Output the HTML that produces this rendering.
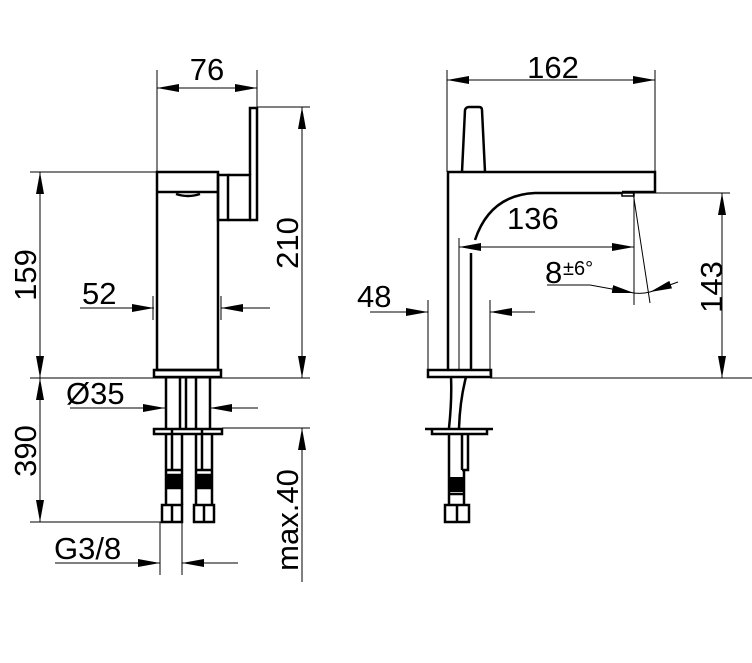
<!DOCTYPE html>
<html><head><style>body{margin:0;background:#fff}svg{display:block}text{font-family:"Liberation Sans",sans-serif;fill:#000}</style></head><body>
<svg width="752" height="663" viewBox="0 0 752 663" xmlns="http://www.w3.org/2000/svg">
<defs>
<marker id="a" viewBox="0 0 22 8" refX="22" refY="4" markerWidth="22" markerHeight="8" markerUnits="userSpaceOnUse" orient="auto-start-reverse"><path d="M0,0L22,4L0,8z" fill="#000"/></marker>
</defs>
<g stroke="#000" stroke-width="1" fill="none">
<path d="M157 70V172M257 70V107M257 107H310M30 172H157M30 378H310M222 428H310M30 522H182M160 522V575M182 522V575"/>
<path d="M157 88H257" marker-start="url(#a)" marker-end="url(#a)"/>
<path d="M302 107V378" marker-start="url(#a)" marker-end="url(#a)"/>
<path d="M40 172V378" marker-start="url(#a)" marker-end="url(#a)"/>
<path d="M40 378V522" marker-start="url(#a)" marker-end="url(#a)"/>
<path d="M302 428V582" marker-start="url(#a)"/>
<path d="M80 308H154" marker-end="url(#a)"/><path d="M270 308H221" marker-end="url(#a)"/>
<path d="M153 296V320M221 296V320"/>
<path d="M70 408H165" marker-end="url(#a)"/><path d="M258 408H210" marker-end="url(#a)"/>
<path d="M55 563H160" marker-end="url(#a)"/><path d="M238 563H182" marker-end="url(#a)"/>
</g>
<g stroke="#000" stroke-width="2.5" fill="none">
<rect x="157" y="172" width="61" height="198"/>
<path d="M157 192H218"/>
<path d="M176 194Q188 198 200 194"/>
<rect x="218" y="175" width="10" height="45"/>
<path d="M228 175H250V220H228"/>
<path d="M250 175V108H257V220H250"/>
<rect x="154" y="370" width="67" height="7"/>
<path d="M166 378V430M180 378V430M186 378V430M196 378V430M210 378V430M172 430V470M202 430V470"/>
<rect x="154" y="429" width="68" height="5"/>
<path d="M166 434V470H182V434M196 434V470H212V434M182 470V505M166 470V505M196 470V505M212 470V505"/>
<path d="M167 475H181M167 488H181M197 475H211M197 488H211"/>
<path d="M162 505H182V522H162ZM172 505V522M194 505H214V522H194ZM204 505V522"/>
</g>
<g fill="#000">
<rect x="167" y="476" width="14" height="12"/><rect x="197" y="476" width="14" height="12"/>
</g>
<g stroke="#000" stroke-width="1" fill="none">
<path d="M447 70V172M655 70V172M634 193H730M490 378H752M428 300V375M490 300V375M634 196V305M633 192L650 303"/>
<path d="M447 80H655" marker-start="url(#a)" marker-end="url(#a)"/>
<path d="M722 193V378" marker-start="url(#a)" marker-end="url(#a)"/>
<path d="M459 247H634" marker-start="url(#a)" marker-end="url(#a)"/>
<path d="M370 312H428" marker-end="url(#a)"/><path d="M535 312H490" marker-end="url(#a)"/>
<path d="M547 285H590L634 293" marker-end="url(#a)"/>
<path d="M678 282L650 292" marker-end="url(#a)"/>
<path d="M634 293Q642 294 650 292"/>
<path d="M459 238V370"/>
</g>
<g stroke="#000" stroke-width="2.5" fill="none">
<path d="M448 370V172H655V192H622"/>
<path d="M622 193H535Q490 195 475 240"/>
<path d="M622 193L634 193L634 196L622 196Z" stroke-width="1.5"/>
<path d="M462 172L465 110Q466 107 469 107H479Q482 107 482 110L485 172"/>
<path d="M471 253V370"/>
<rect x="428" y="370" width="63" height="7"/>
<path d="M451 377Q452 400 449 428M466 377Q460 400 459 428"/>
<path d="M425 429H493M432 429V434H487V429"/>
<path d="M449 434V470M462 434V470M468 434V470H462"/>
<path d="M449 470V505M464 470V505M449 494H464"/>
<path d="M445 505H469V522H445ZM457 505V522"/>
</g>
<rect x="449" y="477" width="15" height="15" fill="#000"/>
<g font-size="31">
<text x="207" y="80" text-anchor="middle">76</text>
<text x="553" y="78" text-anchor="middle">162</text>
<text x="82" y="304">52</text>
<text x="66" y="404">Ø35</text>
<text x="54" y="559">G3/8</text>
<text x="357" y="307">48</text>
<text x="507" y="229">136</text>
<text transform="translate(298 243) rotate(-90)" text-anchor="middle">210</text>
<text transform="translate(36 275) rotate(-90)" text-anchor="middle">159</text>
<text transform="translate(36 451) rotate(-90)" text-anchor="middle">390</text>
<text transform="translate(298 520) rotate(-90)" text-anchor="middle">max.40</text>
<text transform="translate(722 287) rotate(-90)" text-anchor="middle">143</text>
<text x="545" y="283">8</text>
</g>
<text x="563" y="275" font-size="20">±6°</text>
</svg>
</body></html>
